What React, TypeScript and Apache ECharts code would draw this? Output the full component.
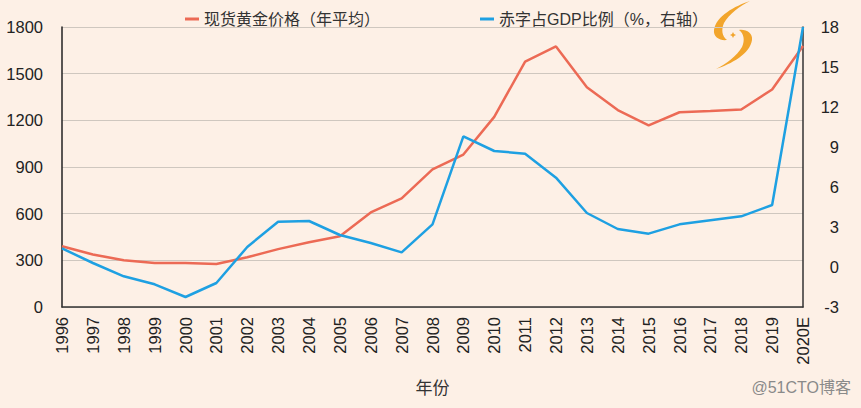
import React, { useEffect, useRef } from "react";
import * as echarts from "echarts";

const years = ["1996","1997","1998","1999","2000","2001","2002","2003","2004","2005","2006","2007","2008","2009","2010","2011","2012","2013","2014","2015","2016","2017","2018","2019","2020E"];
const goldPrice = [390, 338, 300, 283, 283, 276, 320, 372, 416, 455, 608, 698, 885, 980, 1222, 1578, 1675, 1412, 1266, 1168, 1252, 1260, 1270, 1398, 1678];
const deficitPct = [1.4, 0.3, -0.7, -1.3, -2.25, -1.2, 1.5, 3.4, 3.45, 2.4, 1.8, 1.1, 3.2, 9.8, 8.7, 8.5, 6.7, 4.05, 2.85, 2.5, 3.2, 3.5, 3.8, 4.65, 18];
const leftTicks = { min: 0, max: 1800, interval: 300 };
const rightTicks = { min: -3, max: 18, interval: 3 };
const seriesNames = ["现货黄金价格（年平均）", "赤字占GDP比例（%，右轴）"];

const FONT = "'Liberation Sans', 'Noto Sans CJK SC', sans-serif";

const logoUpper = "M50,1 C35,6 16,16 14,30 C13,37 20,41 27,40 C22,36 21,30 24,23 C29,14 40,6 50,1 Z";
const logoLower = "M16,69 C31,64 50,54 52,40 C53,33 46,29 39,30 C44,34 45,40 42,47 C37,56 26,64 16,69 Z";

let registered = false;
function registerShapes() {
  if (registered) return;
  echarts.graphic.registerShape("logoUpper", echarts.graphic.extendPath(logoUpper, {}) as any);
  echarts.graphic.registerShape("logoLower", echarts.graphic.extendPath(logoLower, {}) as any);
  registered = true;
}

export default function App() {
  const ref = useRef<HTMLDivElement>(null);
  useEffect(() => {
    if (!ref.current) return;
    registerShapes();
    const chart = echarts.init(ref.current, undefined, { renderer: "svg" });
    const logoColor = "#F2A52C";
    chart.setOption({
      animation: false,
      backgroundColor: "#FDF0E6",
      textStyle: { fontFamily: FONT },
      legend: {
        top: 6,
        left: 180,
        itemGap: 100,
        itemWidth: 14,
        itemHeight: 3,
        icon: "rect",
        textStyle: { fontSize: 16, color: "#333", fontFamily: FONT },
        data: seriesNames,
      },
      grid: { left: 62, right: 58, top: 27, bottom: 101, containLabel: false },
      xAxis: {
        type: "category",
        data: years,
        boundaryGap: false,
        name: "年份",
        nameLocation: "middle",
        nameGap: 73,
        nameTextStyle: { fontSize: 17, color: "#333", fontFamily: FONT },
        axisLine: { lineStyle: { color: "#333", width: 1.5 } },
        axisTick: { show: false },
        axisLabel: { rotate: 90, fontSize: 16.5, color: "#222", margin: 10, interval: 0, fontFamily: FONT },
        splitLine: { show: false },
      },
      yAxis: [
        {
          type: "value",
          min: leftTicks.min,
          max: leftTicks.max,
          interval: leftTicks.interval,
          axisLine: { show: true, lineStyle: { color: "#222", width: 1.5 } },
          axisTick: { show: false },
          axisLabel: { fontSize: 16.5, color: "#222", margin: 19, fontFamily: FONT, formatter: (v: number) => String(v) },
          splitLine: { show: true, lineStyle: { color: "#CFC7BF", width: 1 } },
        },
        {
          type: "value",
          min: rightTicks.min,
          max: rightTicks.max,
          interval: rightTicks.interval,
          position: "right",
          axisLine: { show: true, lineStyle: { color: "#333", width: 1.5 } },
          axisTick: { show: false },
          axisLabel: { fontSize: 16.5, color: "#222", margin: 36, align: "right", fontFamily: FONT, formatter: (v: number) => String(v) },
          splitLine: { show: false },
        },
      ],
      series: [
        {
          name: seriesNames[0],
          type: "line",
          data: goldPrice,
          yAxisIndex: 0,
          symbol: "none",
          lineStyle: { color: "#EC6A55", width: 2.5 },
          itemStyle: { color: "#EC6A55" },
        },
        {
          name: seriesNames[1],
          type: "line",
          data: deficitPct,
          yAxisIndex: 1,
          symbol: "none",
          lineStyle: { color: "#1EA0E2", width: 2.5 },
          itemStyle: { color: "#1EA0E2" },
        },
      ],
      graphic: [
        {
          type: "group",
          x: 700,
          y: 0,
          children: [
            { type: "logoUpper", style: { fill: logoColor } },
            { type: "logoLower", style: { fill: logoColor } },
            { type: "polygon", shape: { points: [[33, 32], [34, 34], [36, 35], [34, 36], [33, 38], [32, 36], [30, 35], [32, 34]] }, style: { fill: logoColor } },
          ],
        },
        {
          type: "text",
          right: 10,
          top: 379,
          style: { text: "@51CTO博客", fontSize: 16, fill: "#8a8a8a", fontFamily: FONT },
        },
      ],
    });
    return () => chart.dispose();
  }, []);
  return <div ref={ref} style={{ width: 861, height: 408, position: "absolute", left: 0, top: 0 }} />;
}
